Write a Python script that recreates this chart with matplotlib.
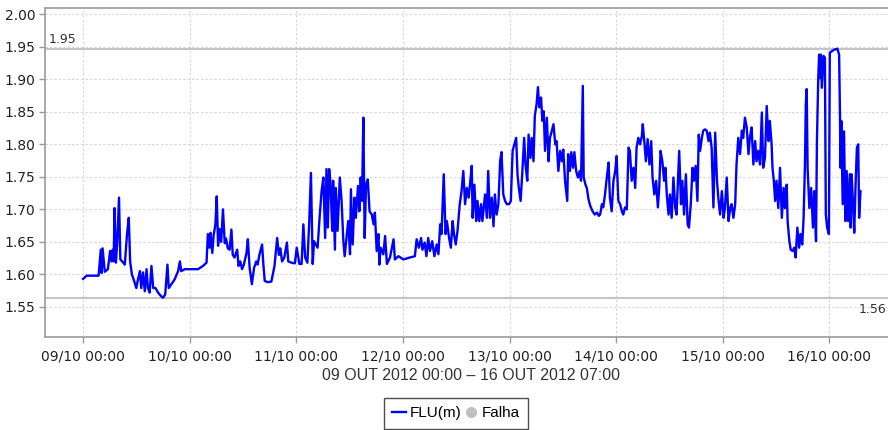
import numpy as np
import matplotlib
matplotlib.use("Agg")
import matplotlib.pyplot as plt
import matplotlib.dates as mdates
from matplotlib.lines import Line2D
from datetime import datetime, timedelta

# hours after 09/10/2012 00:00
hours = [
    0.0, 0.8, 3.5, 4.0, 4.2, 4.4, 4.9, 5.6, 6.1, 6.4, 6.7, 6.9, 7.1, 7.4, 7.7, 8.1, 8.4, 8.8, 9.4, 9.9,
    10.3, 10.6, 11.0, 11.5, 12.0, 12.3, 12.8, 13.1, 13.5, 13.9, 14.3, 14.6, 15.0, 15.4, 15.8, 16.3, 16.9,
    17.5, 18.0, 18.5, 19.0, 19.3, 19.9, 20.6, 21.4, 21.8, 22.1, 22.9, 24.0, 25.9, 27.0, 27.8, 28.1, 28.5,
    28.7, 29.1, 29.4, 29.8, 30.1, 30.4, 30.7, 31.1, 31.5, 31.9, 32.2, 32.6, 33.0, 33.4, 33.7, 34.1, 34.7,
    35.0, 35.4, 35.8, 36.2, 36.8, 37.1, 37.5, 38.0, 38.5, 39.0, 39.3, 39.7, 40.3, 40.6, 40.9, 41.6, 42.4,
    43.1, 43.7, 44.1, 44.4, 44.8, 45.3, 45.9, 46.2, 46.9,
    47.7, 48.1, 48.7, 49.2, 49.6, 50.0, 50.5, 50.9, 51.3, 51.7, 52.0, 52.4, 52.8, 53.3, 53.7, 54.1, 54.5,
    54.8, 55.1, 55.4, 55.7, 56.1, 56.3, 56.7, 56.9, 57.3, 57.8, 58.2, 58.6, 58.9, 59.3, 59.7, 60.1, 60.3,
    60.7, 61.1, 61.4, 61.9, 62.2, 62.5, 62.8, 63.1, 63.4, 63.7, 64.1, 64.5, 65.0, 65.4, 65.7, 66.1, 66.5,
    66.7, 67.0, 67.6, 68.0, 68.4, 69.1, 69.9, 70.2, 71.0, 72.1, 73.6, 74.7, 75.1, 75.6, 76.1, 76.4, 76.9,
    77.3, 77.7, 78.1, 78.6, 79.1, 79.6, 80.0,
    80.4, 80.7, 81.2, 81.6, 81.9, 82.4, 82.8, 83.2, 83.5, 83.9, 84.3, 84.8, 85.2, 85.6, 86.0, 86.4, 86.8,
    87.1, 87.5, 87.7, 88.1, 88.5, 88.8, 89.2, 89.6, 89.9, 90.5, 90.9, 91.2, 91.6, 92.0, 92.4, 92.7, 93.1,
    93.5, 93.9, 94.2, 94.6, 95.0, 95.4, 95.9, 96.3, 96.7, 97.1, 97.5, 97.8, 98.1, 98.5, 98.9, 99.3, 99.6,
    100.0, 100.3, 100.7, 101.0, 101.4, 101.7, 102.1, 102.4, 102.7, 103.1, 103.4, 103.7, 104.0, 104.4,
    104.8, 105.1, 105.5, 105.9, 106.3, 106.6, 107.0, 107.4, 107.8, 108.1, 108.5, 109.0, 109.2, 109.6,
    109.9, 110.3, 110.6, 111.0, 111.4, 111.8, 112.1, 112.5, 112.7, 113.1, 113.4, 113.8, 114.2, 114.7,
    115.2, 115.7, 116.1,
    116.4, 116.8, 117.1, 117.5, 117.9, 118.3, 118.6, 119.0, 119.4, 119.8, 120.1, 120.5, 120.9, 121.3,
    121.6, 122.0, 122.4, 122.8, 123.1, 123.5, 123.9, 124.3, 124.6, 125.0, 125.4, 125.8, 126.0, 126.4,
    126.7, 127.1, 127.5, 127.9, 128.2, 128.6, 129.0, 129.4, 129.7, 130.0, 130.4, 130.8, 131.1, 131.4,
    131.8, 132.1, 132.5, 132.9, 133.3, 133.6, 134.2, 134.6, 134.9, 135.3, 135.7, 136.1, 136.4, 136.8,
    137.2, 137.5, 137.9, 138.3, 138.6, 138.9, 139.3, 139.6, 140.0, 140.4, 140.8, 141.1, 141.5, 141.9,
    142.3, 142.7, 143.0, 143.4, 143.8, 144.2, 144.5, 144.9, 145.3, 145.7, 146.0, 146.4, 146.8, 147.1,
    147.5, 147.9, 148.3, 148.6, 149.0, 149.4, 149.8, 150.1, 150.5, 150.9, 151.3, 151.6, 152.0, 152.4,
    152.8, 153.1, 153.5, 153.9, 154.3,
    154.6, 155.0, 155.2, 155.5, 155.8, 156.1, 156.5, 156.9, 157.3, 157.7, 158.0, 158.4, 158.6, 159.0,
    159.3, 159.7, 160.1, 160.4, 160.8, 161.2, 161.5, 161.9, 162.2, 162.5, 162.7, 162.9, 163.1, 163.5,
    163.9, 164.3, 164.6, 165.0, 165.2, 165.5, 165.7, 165.9, 166.1, 166.3, 166.7, 167.0, 167.2, 167.5,
    167.9, 168.1, 168.5, 169.2, 169.8, 170.2, 170.4, 170.5, 170.7, 171.0, 171.3, 171.6, 171.9, 172.2,
    172.6, 172.8, 173.0, 173.3, 173.6, 173.9, 174.2, 174.5, 174.7, 175.0,
]

flu_m = [
    1.593, 1.598, 1.598, 1.638, 1.602, 1.640, 1.604, 1.608, 1.636, 1.620, 1.638, 1.620, 1.702, 1.618,
    1.649, 1.718, 1.623, 1.620, 1.615, 1.662, 1.687, 1.620, 1.600, 1.590, 1.579, 1.590, 1.605, 1.579,
    1.603, 1.574, 1.608, 1.579, 1.572, 1.613, 1.579, 1.579, 1.572, 1.567, 1.564, 1.569, 1.615, 1.579,
    1.585, 1.592, 1.605, 1.620, 1.605, 1.608, 1.608, 1.608, 1.613, 1.618, 1.662, 1.641, 1.664, 1.633,
    1.660, 1.677, 1.720, 1.644, 1.670, 1.650, 1.700, 1.648, 1.655, 1.640, 1.638, 1.669, 1.630, 1.626,
    1.638, 1.613, 1.620, 1.608, 1.615, 1.633, 1.654, 1.610, 1.585, 1.610, 1.620, 1.615, 1.630, 1.646,
    1.615, 1.590, 1.588, 1.589, 1.613, 1.656, 1.630, 1.640, 1.620, 1.626, 1.649, 1.620, 1.618,
    1.617, 1.641, 1.616, 1.616, 1.677, 1.626, 1.618, 1.677, 1.756, 1.616, 1.651, 1.646, 1.641, 1.692,
    1.728, 1.749, 1.656, 1.762, 1.672, 1.762, 1.741, 1.667, 1.744, 1.638, 1.733, 1.667, 1.749, 1.713,
    1.651, 1.628, 1.656, 1.682, 1.631, 1.731, 1.646, 1.718, 1.687, 1.736, 1.697, 1.749, 1.713, 1.841,
    1.656, 1.738, 1.746, 1.697, 1.692, 1.677, 1.695, 1.636, 1.662, 1.615, 1.641, 1.631, 1.659, 1.616,
    1.626, 1.654, 1.623, 1.628, 1.623, 1.626, 1.628, 1.654, 1.641, 1.656, 1.638, 1.649, 1.628, 1.656,
    1.636, 1.651, 1.628, 1.646, 1.631,
    1.677, 1.662, 1.754, 1.662, 1.682, 1.656, 1.641, 1.682, 1.662, 1.646, 1.667, 1.708, 1.728, 1.759,
    1.708, 1.733, 1.718, 1.738, 1.767, 1.687, 1.738, 1.682, 1.713, 1.682, 1.708, 1.682, 1.723, 1.687,
    1.759, 1.687, 1.718, 1.674, 1.723, 1.692, 1.708, 1.775, 1.788, 1.723, 1.713, 1.708, 1.708, 1.713,
    1.790, 1.800, 1.810, 1.754, 1.733, 1.713, 1.759, 1.810, 1.769, 1.744, 1.815, 1.779, 1.810, 1.774,
    1.844, 1.862, 1.888, 1.857, 1.872, 1.836, 1.851, 1.790, 1.841, 1.774, 1.810, 1.820, 1.831, 1.800,
    1.805, 1.759, 1.790, 1.774, 1.792, 1.744, 1.713, 1.785, 1.759, 1.788, 1.764, 1.788, 1.759, 1.749,
    1.759, 1.744, 1.890, 1.749, 1.738, 1.733, 1.715, 1.705, 1.697, 1.692, 1.695, 1.690,
    1.692, 1.708, 1.703, 1.723, 1.749, 1.772, 1.718, 1.697, 1.744, 1.759, 1.782, 1.713, 1.708, 1.697,
    1.692, 1.703, 1.700, 1.795, 1.790, 1.744, 1.764, 1.733, 1.795, 1.810, 1.800, 1.813, 1.831, 1.800,
    1.774, 1.808, 1.769, 1.805, 1.749, 1.723, 1.744, 1.703, 1.733, 1.790, 1.774, 1.744, 1.764, 1.723,
    1.692, 1.723, 1.687, 1.749, 1.703, 1.692, 1.790, 1.708, 1.744, 1.692, 1.754, 1.677, 1.672, 1.708,
    1.764, 1.744, 1.767, 1.713, 1.815, 1.790, 1.810, 1.821, 1.823, 1.821, 1.805, 1.818, 1.795, 1.703,
    1.818, 1.744, 1.718, 1.692, 1.728, 1.687, 1.703, 1.749, 1.682, 1.703, 1.708, 1.687, 1.708, 1.769,
    1.810, 1.785, 1.821, 1.810, 1.841, 1.826, 1.785, 1.810, 1.826, 1.769, 1.805, 1.774, 1.790, 1.769,
    1.849, 1.764, 1.779, 1.859, 1.805,
    1.836, 1.800, 1.764, 1.744, 1.713, 1.744, 1.702, 1.764, 1.687, 1.733, 1.702, 1.738, 1.682, 1.651,
    1.638, 1.636, 1.641, 1.626, 1.672, 1.641, 1.662, 1.646, 1.687, 1.767, 1.862, 1.885, 1.764, 1.702,
    1.733, 1.672, 1.728, 1.651, 1.805, 1.902, 1.938, 1.902, 1.938, 1.887, 1.936, 1.933, 1.692, 1.672,
    1.662, 1.941, 1.943, 1.946, 1.947, 1.938, 1.841, 1.764, 1.836, 1.708, 1.820, 1.682, 1.759, 1.682,
    1.754, 1.672, 1.754, 1.713, 1.664, 1.738, 1.795, 1.800, 1.687, 1.728,
]

upper_limit = 1.946
lower_limit = 1.564
upper_label = "1.95"
lower_label = "1.56"
period_label = "09 OUT 2012 00:00 \u2013 16 OUT 2012 07:00"
series_label = "FLU(m)"
fault_label = "Falha"

start = datetime(2012, 10, 9)
times = [start + timedelta(hours=h) for h in hours]

W, H = 888, 430
fig = plt.figure(figsize=(W / 100, H / 100), dpi=100)
ax = fig.add_axes([45 / W, (H - 337) / H, (W - 45) / W, 329 / H])

grid_col = "#d4d4d4"
axis_col = "#9a9a9a"
sans = ["Liberation Sans", "DejaVu Sans"]

ax.plot(times, flu_m, color="#0000ff", lw=1.7, solid_joinstyle="round", zorder=3)

# threshold lines with their labels
ax.axhline(upper_limit, color="#c4c4c4", lw=1.5, zorder=2)
ax.axhline(lower_limit, color="#c4c4c4", lw=1.5, zorder=2)
ax.text(0.004, upper_limit + 0.006, upper_label, transform=ax.get_yaxis_transform(),
        fontsize=9, color="#333333", va="bottom", ha="left")
ax.text((886 - 45) / (W - 45), lower_limit - 0.008, lower_label, transform=ax.get_yaxis_transform(),
        fontsize=9, color="#333333", va="top", ha="right")

x0 = start - timedelta(hours=8.56)
x1 = start + timedelta(hours=181.2)
ax.set_xlim(x0, x1)
ax.set_ylim(1.5037, 2.0097)

ax.xaxis.set_major_locator(mdates.DayLocator())
ax.xaxis.set_major_formatter(mdates.DateFormatter("%d/%m %H:%M"))
ax.set_yticks(np.arange(1.55, 2.001, 0.05))
ax.yaxis.set_major_formatter(matplotlib.ticker.FormatStrFormatter("%.2f"))

ax.grid(True, color=grid_col, ls=(0, (2, 2)), lw=0.8)
ax.set_axisbelow(True)
for side in ["left", "bottom", "top"]:
    ax.spines[side].set_color(axis_col)
    ax.spines[side].set_linewidth(1.2)
ax.spines["right"].set_visible(False)
ax.tick_params(axis="both", colors=axis_col, length=4, width=1, labelcolor="#222222", labelsize=10)
ax.tick_params(axis="x", pad=5)
ax.tick_params(axis="y", pad=3)

fig.text(471 / W, 1 - 375 / H, period_label, ha="center", va="center",
         fontsize=11.5, color="#333333", family=sans)

handles = [Line2D([], [], color="#0000ff", lw=1.7),
           Line2D([], [], color="#c0c0c0", marker="o", ls="none", markersize=7)]
leg = fig.legend(handles, [series_label, fault_label], loc="upper center",
                 bbox_to_anchor=(456 / W, 1 - 398 / H), ncol=2, frameon=True, fancybox=False,
                 edgecolor="#222222", handlelength=0.9, handletextpad=0.25, columnspacing=0.2,
                 borderpad=0.55, borderaxespad=0, prop={"family": sans, "size": 11})
leg.get_frame().set_linewidth(1.0)

fig.savefig("out.png", dpi=100)
